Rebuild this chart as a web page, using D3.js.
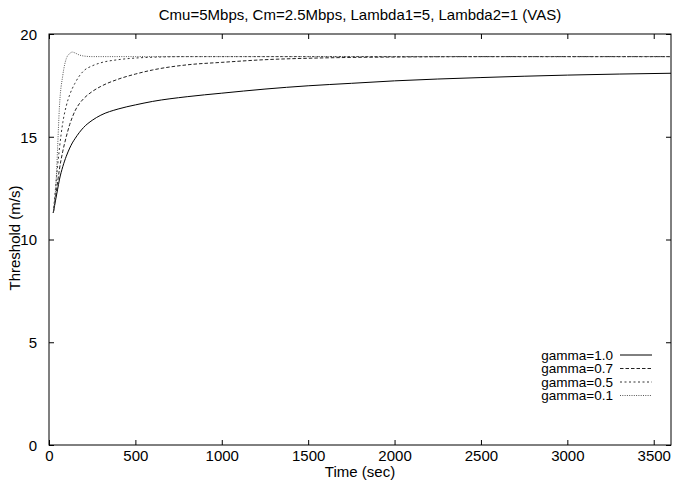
<!DOCTYPE html>
<html><head><meta charset="utf-8">
<script src="https://cdn.jsdelivr.net/npm/d3@7"></script>
<style>
html,body{margin:0;padding:0;background:#fff;}
text{font-family:"Liberation Sans",Arial,Helvetica,sans-serif;fill:#000;}
</style></head>
<body>
<svg id="chart" width="673" height="484"></svg>
<script>
const titleText = "Cmu=5Mbps, Cm=2.5Mbps, Lambda1=5, Lambda2=1 (VAS)";
const xLabel = "Time (sec)";
const yLabel = "Threshold (m/s)";
const xTicks = [0, 500, 1000, 1500, 2000, 2500, 3000, 3500];
const yTicks = [0, 5, 10, 15, 20];
const seriesNames = ["gamma=1.0", "gamma=0.7", "gamma=0.5", "gamma=0.1"];
const times =   [25,   40,   50,   60,   80,   100,  120,  135,  150,  175,  200,  250,  300,  400,  500,  600,  800,  1000, 1250, 1500, 1750, 2000, 2500, 3000, 3600];
const gamma10 = [11.3, 12.0, 12.45,12.9, 13.55,14.05,14.45,14.7, 14.9, 15.2, 15.45,15.8, 16.05,16.35,16.55,16.72,16.95,17.12,17.32,17.48,17.6, 17.72,17.88,18.0, 18.09];
const gamma07 = [11.3, 12.2, 12.8, 13.4, 14.3, 15.0, 15.6, 15.95,16.25,16.6, 16.85,17.2, 17.45,17.8, 18.05,18.25,18.5, 18.62,18.75,18.82,18.86,18.88,18.9, 18.9, 18.9];
const gamma05 = [11.3, 12.7, 13.6, 14.4, 15.7, 16.5, 17.05,17.35,17.6, 17.95,18.2, 18.45,18.6, 18.75,18.83,18.87,18.9, 18.9, 18.9, 18.9, 18.9, 18.9, 18.9, 18.9, 18.9];
const gamma01 = [11.3, 12.6, 14.5, 16.4, 18.0, 18.8, 19.05,19.12,19.08,18.98,18.93,18.9, 18.9, 18.9, 18.9, 18.9, 18.9, 18.9, 18.9, 18.9, 18.9, 18.9, 18.9, 18.9, 18.9];
const dashes = ["none", "3.5,2", "2,2.5", "1,1.3"];
const strokeColors = ["#000", "#222", "#333", "#555"];

const svg = d3.select("#chart");
const M = {left: 49, right: 671, top: 34, bottom: 445};
const x = d3.scaleLinear().domain([0, 3600]).range([M.left, M.right]);
const y = d3.scaleLinear().domain([0, 20]).range([M.bottom, M.top]);
const fmt = d3.format("d");

// frame
svg.append("rect").attr("x", M.left).attr("y", M.top)
  .attr("width", M.right - M.left).attr("height", M.bottom - M.top)
  .attr("fill", "none").attr("stroke", "#000").attr("stroke-width", 1);

const tl = 5;
const xb = svg.append("g").attr("transform", `translate(0,${M.bottom})`)
  .call(d3.axisBottom(x).tickValues(xTicks).tickFormat(fmt).tickSizeInner(-tl).tickSizeOuter(0).tickPadding(5));
const xt = svg.append("g").attr("transform", `translate(0,${M.top})`)
  .call(d3.axisTop(x).tickValues(xTicks).tickSizeInner(-tl).tickSizeOuter(0).tickFormat(""));
const yl = svg.append("g").attr("transform", `translate(${M.left},0)`)
  .call(d3.axisLeft(y).tickValues(yTicks).tickFormat(fmt).tickSizeInner(-tl).tickSizeOuter(0).tickPadding(12));
const yr = svg.append("g").attr("transform", `translate(${M.right},0)`)
  .call(d3.axisRight(y).tickValues(yTicks).tickSizeInner(-tl).tickSizeOuter(0).tickFormat(""));
[xb, xt, yl, yr].forEach(g => {
  g.select(".domain").remove();
  g.selectAll("line").attr("stroke", "#000");
  g.selectAll("text").attr("font-size", 15).attr("font-family", "Liberation Sans, Arial, sans-serif").attr("fill", "#000");
});
yl.selectAll("text").attr("dy", "0.35em");

// curves
const seriesVals = [gamma10, gamma07, gamma05, gamma01];
const line = d3.line().x(d => x(d[0])).y(d => y(d[1])).curve(d3.curveMonotoneX);
seriesVals.forEach((vals, i) => {
  const pts = times.map((t, j) => [t, vals[j]]);
  svg.append("path").datum(pts).attr("d", line)
    .attr("fill", "none").attr("stroke", strokeColors[i]).attr("stroke-width", 1)
    .attr("stroke-dasharray", dashes[i]);
});

// legend
const lg = svg.append("g");
seriesNames.forEach((n, i) => {
  const yy = 355 + i * 13.5;
  lg.append("text").attr("x", 613).attr("y", yy).attr("dy", "0.35em")
    .attr("text-anchor", "end").attr("font-size", 13.5).text(n);
  lg.append("line").attr("x1", 620).attr("x2", 652).attr("y1", yy).attr("y2", yy)
    .attr("stroke", strokeColors[i]).attr("stroke-width", 1).attr("stroke-dasharray", dashes[i]);
});

// title & labels
svg.append("text").attr("x", 360).attr("y", 20).attr("text-anchor", "middle")
  .attr("font-size", 15).text(titleText);
svg.append("text").attr("x", 360).attr("y", 477).attr("text-anchor", "middle")
  .attr("font-size", 15).text(xLabel);
svg.append("text").attr("transform", "translate(20,238) rotate(-90)").attr("text-anchor", "middle")
  .attr("font-size", 15).text(yLabel);
</script>
</body></html>
